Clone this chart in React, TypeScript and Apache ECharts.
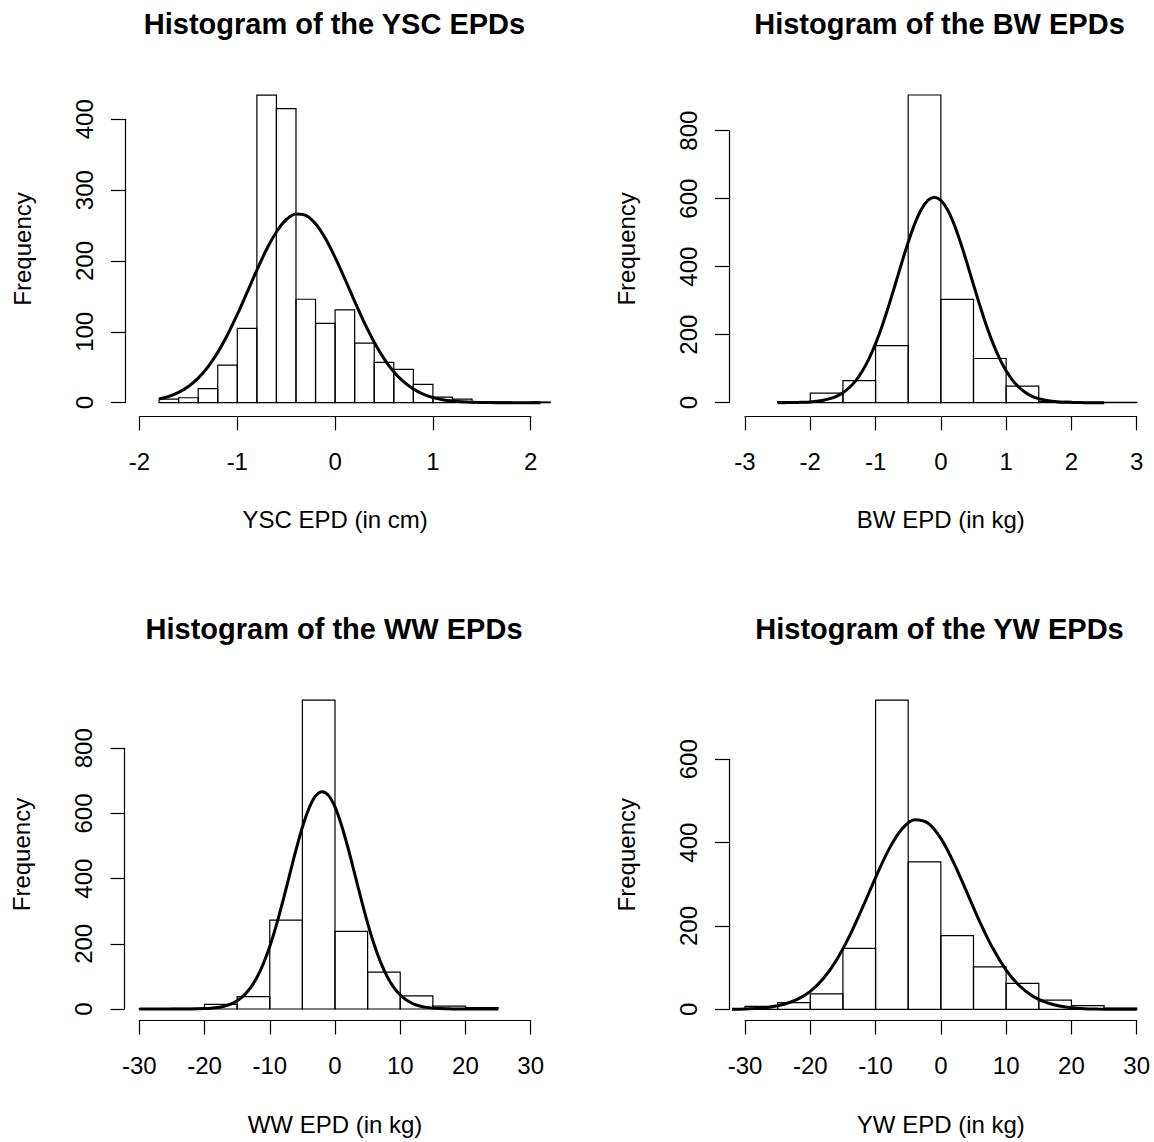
import React, { useEffect, useRef } from "react";
import * as echarts from "echarts";

// ---------- DATA ----------
// YSC EPDs (in cm)
const yscBreaks = [-1.8, -1.6, -1.4, -1.2, -1.0, -0.8, -0.6, -0.4, -0.2, 0, 0.2, 0.4, 0.6, 0.8, 1.0, 1.2, 1.4, 1.6, 1.8, 2.0, 2.2];
const yscCounts = [5, 7, 20, 53, 105, 434, 415, 146, 112, 131, 84, 57, 47, 26, 8, 5, 1, 1, 0, 1];
const yscCurveX = [-1.8, -1.7, -1.6, -1.5, -1.4, -1.3, -1.2, -1.1, -1.0, -0.9, -0.8, -0.7, -0.6, -0.5, -0.4, -0.3, -0.2, -0.1, 0, 0.1, 0.2, 0.3, 0.4, 0.5, 0.6, 0.7, 0.8, 0.9, 1.0, 1.1, 1.2, 1.3, 1.4, 1.5, 1.6, 1.7, 1.8, 1.9, 2.0, 2.1];
const yscCurveY = [5.2, 8.9, 14.6, 22.9, 34.7, 50.6, 71, 95.9, 124.5, 155.6, 187, 216.6, 241, 258.5, 266.5, 264.5, 252.6, 232, 205, 174.6, 143, 112.6, 85.4, 62.3, 43.7, 29.6, 19.2, 12, 7.2, 4.2, 2.3, 1.3, 0.6, 0.3, 0.15, 0.07, 0.03, 0.01, 0, 0];
const yscXTicks = [-2, -1, 0, 1, 2];
const yscYTicks = [0, 100, 200, 300, 400];

// BW EPDs (in kg)
const bwBreaks = [-2.5, -2, -1.5, -1, -0.5, 0, 0.5, 1, 1.5, 2, 2.5, 3];
const bwCounts = [3, 28, 65, 168, 905, 304, 130, 49, 4, 1, 1];
const bwCurveX = [-2.5, -2.4, -2.3, -2.2, -2.1, -2.0, -1.9, -1.8, -1.7, -1.6, -1.5, -1.4, -1.3, -1.2, -1.1, -1.0, -0.9, -0.8, -0.7, -0.6, -0.5, -0.4, -0.3, -0.2, -0.1, 0, 0.1, 0.2, 0.3, 0.4, 0.5, 0.6, 0.7, 0.8, 0.9, 1.0, 1.1, 1.2, 1.3, 1.4, 1.5, 1.6, 1.7, 1.8, 1.9, 2.0, 2.1, 2.2, 2.3, 2.4, 2.5];
const bwCurveY = [0.08, 0.2, 0.35, 0.7, 1.3, 2.3, 4.1, 7.1, 11.8, 18.9, 29.6, 44.8, 65.8, 93.9, 129.6, 173.6, 225.5, 284.2, 347, 411, 472, 526, 568, 594.8, 604, 594.8, 568, 526, 472, 411, 347, 284.2, 225.5, 173.6, 129.6, 93.9, 65.8, 44.8, 29.6, 18.9, 11.8, 7.1, 4.1, 2.3, 1.3, 0.7, 0.35, 0.2, 0.08, 0.04, 0.02];
const bwXTicks = [-3, -2, -1, 0, 1, 2, 3];
const bwYTicks = [0, 200, 400, 600, 800];

// WW EPDs (in kg)
const wwBreaks = [-30, -25, -20, -15, -10, -5, 0, 5, 10, 15, 20, 25];
const wwCounts = [1, 2, 14, 38, 273, 948, 238, 113, 40, 9, 4];
const wwCurveX = [-30, -25, -22, -20, -19, -18, -17, -16, -15, -14, -13, -12, -11, -10, -9, -8, -7, -6, -5, -4, -3, -2, -1, 0, 1, 2, 3, 4, 5, 6, 7, 8, 9, 10, 11, 12, 13, 14, 15, 16, 17, 18, 20, 25];
const wwCurveY = [0, 0.02, 0.3, 1.3, 2.5, 4.7, 8.6, 15, 25.3, 41, 63.8, 95.7, 138.2, 191.9, 256.5, 330, 408.5, 486.6, 557.8, 615.2, 653, 667, 655.5, 620, 564, 494, 416.5, 337.8, 263.5, 197.9, 143, 99.4, 66.5, 42.8, 26.5, 15.8, 9.1, 5, 2.7, 1.4, 0.7, 0.3, 0.06, 0];
const wwXTicks = [-30, -20, -10, 0, 10, 20, 30];
const wwYTicks = [0, 200, 400, 600, 800];

// YW EPDs (in kg)
const ywBreaks = [-30, -25, -20, -15, -10, -5, 0, 5, 10, 15, 20, 25, 30];
const ywCounts = [7, 16, 37, 146, 742, 354, 177, 102, 62, 22, 9, 3];
const ywCurveX = [-32, -30, -28, -26, -24, -22, -20, -18, -16, -14, -12, -10, -8, -6, -4, -2, 0, 2, 4, 6, 8, 10, 12, 14, 16, 18, 20, 22, 24, 26, 28, 30];
const ywCurveY = [0.4, 1.0, 2.5, 5.7, 12, 23.6, 43.2, 73.9, 117.9, 175.6, 244, 316.3, 382.7, 432, 455, 447.2, 410.1, 350.9, 280.2, 208.8, 145.1, 94.2, 57, 32.2, 17, 8.3, 3.8, 1.6, 0.7, 0.2, 0.1, 0.03];
const ywXTicks = [-30, -20, -10, 0, 10, 20, 30];
const ywYTicks = [0, 200, 400, 600];

const panelTitles = ["Histogram of the YSC EPDs", "Histogram of the BW EPDs", "Histogram of the WW EPDs", "Histogram of the YW EPDs"];
const panelXLabels = ["YSC EPD (in cm)", "BW EPD (in kg)", "WW EPD (in kg)", "YW EPD (in kg)"];
const yLabel = "Frequency";

// ---------- LAYOUT (pixels) ----------
const layouts = [
  { xTickPix: [139.5, 530.7], yTickPix: [402.7, 119.3], xAxisY: 416.3, yAxisX: 125, titleX: 334.5, titleY: 24, xMax: 2.4 },
  { xTickPix: [745, 1136.7], yTickPix: [402.7, 130.7], xAxisY: 416.3, yAxisX: 729, titleX: 939.5, titleY: 24, xMax: 3.1 },
  { xTickPix: [139.3, 530.7], yTickPix: [1009, 748.3], xAxisY: 1020.5, yAxisX: 124.5, titleX: 334, titleY: 629, xMax: 31 },
  { xTickPix: [745, 1136.7], yTickPix: [1009.3, 759.3], xAxisY: 1020.5, yAxisX: 729, titleX: 939.5, titleY: 629, xMax: 31 },
];

const FONT = '"Liberation Sans", Arial, Helvetica, sans-serif';
const BASE = 24;
const INK = "#000";

const panels = [
  { breaks: yscBreaks, counts: yscCounts, cx: yscCurveX, cy: yscCurveY, xTicks: yscXTicks, yTicks: yscYTicks },
  { breaks: bwBreaks, counts: bwCounts, cx: bwCurveX, cy: bwCurveY, xTicks: bwXTicks, yTicks: bwYTicks },
  { breaks: wwBreaks, counts: wwCounts, cx: wwCurveX, cy: wwCurveY, xTicks: wwXTicks, yTicks: wwYTicks },
  { breaks: ywBreaks, counts: ywCounts, cx: ywCurveX, cy: ywCurveY, xTicks: ywXTicks, yTicks: ywYTicks },
];

function buildOption() {
  const grid: any[] = [];
  const xAxis: any[] = [];
  const yAxis: any[] = [];
  const series: any[] = [];
  const graphic: any[] = [];

  panels.forEach((p, i) => {
    const L = layouts[i];
    const xt0 = p.xTicks[0];
    const xtN = p.xTicks[p.xTicks.length - 1];
    const yt0 = p.yTicks[0];
    const ytN = p.yTicks[p.yTicks.length - 1];
    const xpix = (v: number) => L.xTickPix[0] + ((v - xt0) / (xtN - xt0)) * (L.xTickPix[1] - L.xTickPix[0]);
    const xval = (px: number) => xt0 + ((px - L.xTickPix[0]) / (L.xTickPix[1] - L.xTickPix[0])) * (xtN - xt0);
    const ypix = (v: number) => L.yTickPix[0] + ((v - yt0) / (ytN - yt0)) * (L.yTickPix[1] - L.yTickPix[0]);
    const maxC = Math.max(...p.counts);
    const yMinR = -0.04 * maxC;
    const yMaxR = 1.04 * maxC;
    const xMinD = xval(L.yAxisX);
    const g = grid.length;

    // data grid
    grid.push({
      left: L.yAxisX,
      top: ypix(yMaxR),
      width: xpix(L.xMax) - L.yAxisX,
      height: ypix(yMinR) - ypix(yMaxR),
      outerBoundsMode: "none",
      containLabel: false,
    });
    xAxis.push({ gridIndex: g, type: "value", min: xMinD, max: L.xMax, show: false });
    yAxis.push({
      gridIndex: g, type: "value", min: yMinR, max: yMaxR, show: true,
      axisLine: { show: false }, axisTick: { show: false }, axisLabel: { show: false }, splitLine: { show: false },
      name: yLabel, nameLocation: "middle", nameGap: 91,
      nameTextStyle: { fontSize: BASE, color: INK, fontFamily: FONT },
    });

    // x axis grid
    grid.push({
      left: xpix(xt0), width: xpix(xtN) - xpix(xt0), top: L.xAxisY - 10, height: 10,
      outerBoundsMode: "none", containLabel: false,
    });
    xAxis.push({
      gridIndex: g + 1, type: "value", min: xt0, max: xtN, interval: p.xTicks[1] - p.xTicks[0], position: "bottom",
      axisLine: { show: true, onZero: false, lineStyle: { color: INK, width: 1.2 } },
      axisTick: { show: true, length: 14, lineStyle: { color: INK, width: 1.2 } },
      axisLabel: { show: true, margin: 33, fontSize: BASE, color: INK, fontFamily: FONT, showMinLabel: true, showMaxLabel: true },
      splitLine: { show: false },
      name: panelXLabels[i], nameLocation: "middle", nameGap: 91.5,
      nameTextStyle: { fontSize: BASE, color: INK, fontFamily: FONT },
    });
    yAxis.push({ gridIndex: g + 1, type: "value", min: 0, max: 1, show: false });

    // y axis grid
    grid.push({
      left: L.yAxisX, width: 10, top: ypix(ytN), height: ypix(yt0) - ypix(ytN),
      outerBoundsMode: "none", containLabel: false,
    });
    xAxis.push({ gridIndex: g + 2, type: "value", min: 0, max: 1, show: false });
    yAxis.push({
      gridIndex: g + 2, type: "value", min: yt0, max: ytN, interval: p.yTicks[1] - p.yTicks[0], position: "left",
      axisLine: { show: true, onZero: false, lineStyle: { color: INK, width: 1.2 } },
      axisTick: { show: true, length: 14, lineStyle: { color: INK, width: 1.2 } },
      axisLabel: { show: true, rotate: 90, margin: 29, fontSize: BASE, color: INK, fontFamily: FONT, showMinLabel: true, showMaxLabel: true },
      splitLine: { show: false },
    });

    const bins = p.counts.map((c, k) => [p.breaks[k], p.breaks[k + 1], c]);
    series.push({
      type: "custom",
      xAxisIndex: g,
      yAxisIndex: g,
      data: bins,
      encode: { x: [0, 1], y: 2 },
      clip: false,
      z: 2,
      renderItem: (params: any, api: any) => {
        const a = api.coord([api.value(0), api.value(2)]);
        const b = api.coord([api.value(1), 0]);
        return {
          type: "rect",
          shape: { x: a[0], y: a[1], width: b[0] - a[0], height: b[1] - a[1] },
          style: { fill: "none", stroke: INK, lineWidth: 1.2 },
        };
      },
    });
    series.push({
      type: "line",
      xAxisIndex: g,
      yAxisIndex: g,
      data: p.cx.map((x, k) => [x, p.cy[k]]),
      showSymbol: false,
      symbol: "none",
      smooth: 0.3,
      clip: false,
      z: 3,
      lineStyle: { color: INK, width: 3 },
    });

    graphic.push({
      type: "text",
      x: L.titleX,
      y: L.titleY,
      style: {
        text: panelTitles[i],
        fill: INK,
        font: `bold 29px ${FONT}`,
        textAlign: "center",
        textVerticalAlign: "middle",
      },
    });
  });

  return {
    animation: false,
    backgroundColor: "#fff",
    grid,
    xAxis,
    yAxis,
    series,
    graphic,
  };
}

export default function App() {
  const ref = useRef<HTMLDivElement>(null);
  useEffect(() => {
    if (!ref.current) return;
    const chart = echarts.init(ref.current, undefined, { renderer: "svg" });
    chart.setOption(buildOption() as any);
    return () => chart.dispose();
  }, []);
  return (
    <div
      ref={ref}
      style={{ position: "fixed", left: 0, top: 0, width: 1154, height: 1142, background: "#fff" }}
    />
  );
}
